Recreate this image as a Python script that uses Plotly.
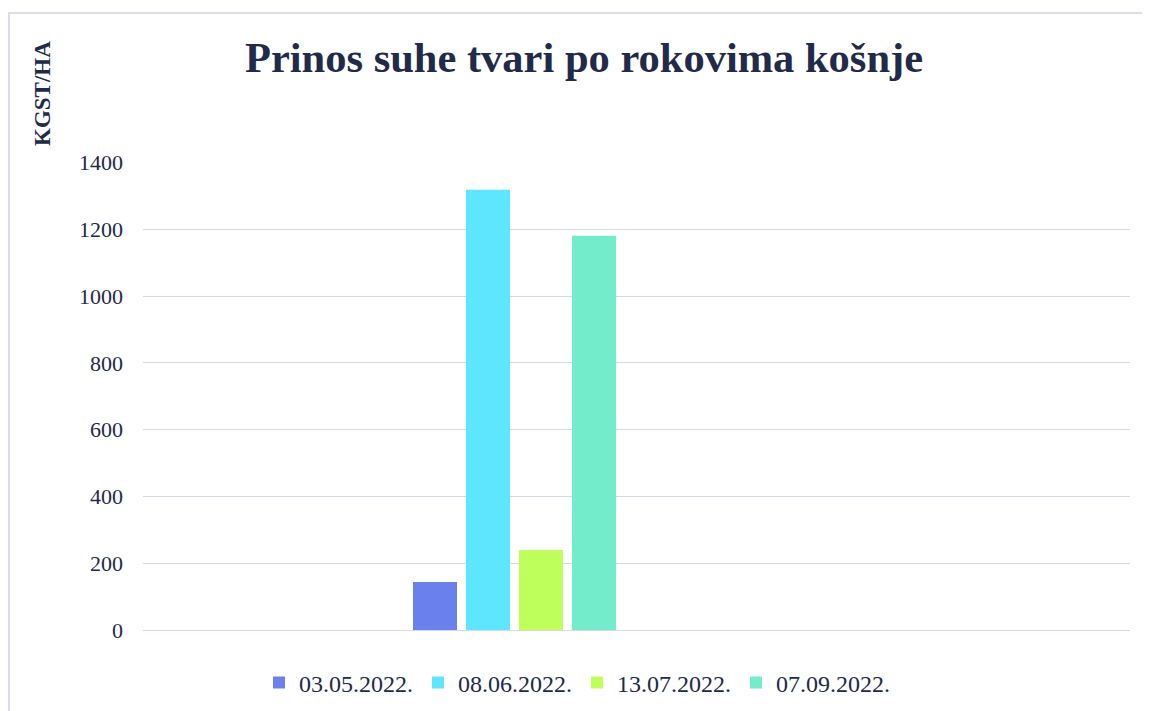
import plotly.graph_objects as go

dates = ["03.05.2022.", "08.06.2022.", "13.07.2022.", "07.09.2022."]
values = [144, 1319, 240, 1181]
colors = ["#6a80ec", "#5ee6ff", "#bfff5c", "#72eccb"]
y_ticks = [0, 200, 400, 600, 800, 1000, 1200, 1400]

FONT = "Liberation Serif, Times New Roman, serif"
TXT = "#222a4a"
GRID = "#d8d8e8"

fig = go.Figure()
for d, v, c in zip(dates, values, colors):
    fig.add_trace(go.Bar(x=[0], y=[v], name=d, marker=dict(color=c, line=dict(width=0))))

OFF = 8  # page body margin
FW, FH = 1150 - OFF, 711 - OFF
# plot area in page pixels
L, R, T, B = 143, 1130, 162, 630
W, H = R - L, B - T
U = 300.0  # px per x unit
cx = 514.5
fig.update_layout(
    width=FW, height=FH,
    margin=dict(l=L - OFF, r=FW - (R - OFF), t=T - OFF, b=FH - (B - OFF), pad=0,
                autoexpand=False),
    paper_bgcolor="white", plot_bgcolor="white",
    barmode="group", bargap=1 - 212 / U, bargroupgap=9 / 53,
    font=dict(family=FONT, color=TXT),
    title=dict(text="<b>Prinos suhe tvari po rokovima košnje</b>",
               font=dict(family=FONT, size=42.5, color=TXT),
               x=(584 - L) / W, xref="paper", xanchor="center",
               y=1 - (57 - OFF) / FH, yref="container", yanchor="middle"),
    xaxis=dict(range=[(L - cx) / U, (R - cx) / U], showticklabels=False,
               showgrid=False, zeroline=False, showline=False, fixedrange=True),
    yaxis=dict(range=[0, 1402], tickvals=y_ticks, ticktext=[str(t) for t in y_ticks],
               showgrid=True, gridcolor=GRID, gridwidth=1.3,
               zeroline=True, zerolinecolor=GRID, zerolinewidth=1.3,
               showline=False, ticks="", ticklabelstandoff=19,
               tickfont=dict(family=FONT, size=22, color=TXT)),
    legend=dict(orientation="h", x=(259 - L) / W, xanchor="left",
                y=(B - 683) / H, yanchor="middle",
                font=dict(family=FONT, size=24, color=TXT),
                itemwidth=30, tracegroupgap=0),
    showlegend=True,
)
fig.add_annotation(text="<b>KGST/HA</b>", textangle=-90, showarrow=False,
                   xref="paper", yref="paper",
                   x=(42 - L) / W, y=(B - 94) / H, xanchor="center", yanchor="middle",
                   font=dict(family=FONT, size=23, color=TXT))
# outer chart border (top and left visible)
fig.add_shape(type="rect", xref="paper", yref="paper",
              x0=(9 - L) / W, x1=(1170 - L) / W, y0=(B - 730) / H, y1=(B - 13) / H,
              line=dict(color="#d9dcef", width=2), fillcolor="rgba(0,0,0,0)", layer="below")
fig.write_html("out.html")
